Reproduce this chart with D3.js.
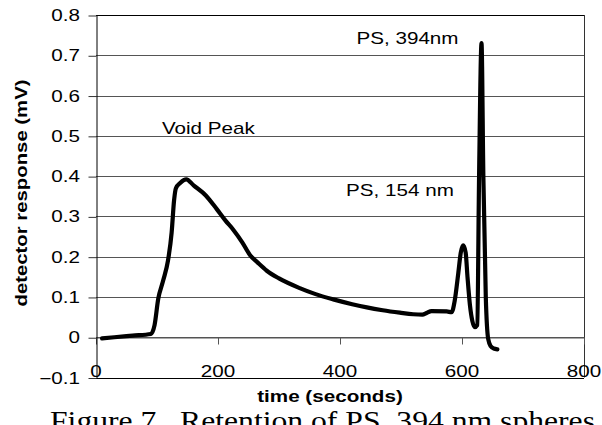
<!DOCTYPE html>
<meta charset="utf-8">
<script src="https://d3js.org/d3.v7.js"></script>
<style>
  body { margin: 0; background: #fff; }
  text { font-family: "Liberation Sans", Arial, sans-serif; fill: #000; }
</style>
<div id="chart"></div>
<script>

// retention time (s) and detector response (mV)
const time = [10, 30, 60, 90, 96, 102, 110, 118, 124, 128, 131, 138, 148, 160, 180, 198, 212,
  225, 240, 252, 266, 280, 300, 334, 360, 389, 420, 444, 470, 498, 520, 535, 542, 550, 575,
  583, 588, 594, 598, 602, 606, 609, 613, 617, 621, 625, 628, 632, 635, 639, 643, 647, 652, 658];
const response = [-0.003, 0.000, 0.004, 0.008, 0.03, 0.095, 0.14, 0.19, 0.26, 0.34, 0.370, 0.383,
  0.392, 0.377, 0.352, 0.318, 0.290, 0.267, 0.235, 0.205, 0.184, 0.165, 0.146, 0.122, 0.107,
  0.094, 0.082, 0.074, 0.067, 0.061, 0.057, 0.056, 0.060, 0.065, 0.064, 0.062, 0.090, 0.16,
  0.21, 0.228, 0.21, 0.15, 0.08, 0.04, 0.025, 0.03, 0.40, 0.73, 0.40, 0.10, -0.005, -0.022,
  -0.028, -0.030];

const xTicks = [0, 200, 400, 600, 800];
const yTicks = [-0.1, 0, 0.1, 0.2, 0.3, 0.4, 0.5, 0.6, 0.7, 0.8];

// labels placed on the plot: [text, time, response]
const notes = [
  ["Void Peak", 108, 0.504],
  ["PS, 394nm", 427, 0.727],
  ["PS, 154 nm", 410, 0.35]
];

const W = 602, H = 425;
const svg = d3.select("#chart").append("svg")
  .attr("width", W).attr("height", H);

svg.append("rect").attr("width", W).attr("height", H).attr("fill", "#fff");

const x = d3.scaleLinear().domain([0, 800]).range([96, 584]);
const y = d3.scaleLinear().domain([-0.1, 0.8]).range([377.5, 15]);

const fmt = d => d === 0 ? "0" : d3.format(".1f")(d);

// horizontal grid lines
svg.append("g")
  .selectAll("line")
  .data(yTicks.filter(d => d > -0.1))
  .join("line")
    .attr("x1", x(0)).attr("x2", x(800))
    .attr("y1", d => Math.round(y(d)) + 0.5)
    .attr("y2", d => Math.round(y(d)) + 0.5)
    .attr("stroke", d => d === 0.8 ? "#000" : "#555")
    .attr("stroke-width", 1);

// plot area border: bottom and right
svg.append("line")
  .attr("x1", x(0)).attr("x2", x(800))
  .attr("y1", Math.round(y(-0.1)) + 0.5).attr("y2", Math.round(y(-0.1)) + 0.5)
  .attr("stroke", "#000");
svg.append("line")
  .attr("x1", Math.round(x(800)) + 0.5).attr("x2", Math.round(x(800)) + 0.5)
  .attr("y1", y(0.8)).attr("y2", y(-0.1))
  .attr("stroke", "#333");

// x axis sits at y = 0, ticks downward
const xAxis = svg.append("g")
  .attr("transform", `translate(0,${Math.round(y(0)) + 0.5})`)
  .call(d3.axisBottom(x).tickValues(xTicks).tickSize(7).tickSizeOuter(0).tickFormat(""));
xAxis.select(".domain").attr("stroke", "#555");
xAxis.selectAll(".tick line").attr("stroke", "#555");

// y axis on the left
const yAxis = svg.append("g")
  .attr("transform", `translate(${Math.round(x(0)) + 0.5},0)`)
  .call(d3.axisLeft(y).tickValues(yTicks).tickSize(8).tickSizeOuter(0).tickFormat(""));
yAxis.select(".domain").attr("stroke", "#000");
yAxis.selectAll(".tick line").attr("stroke", "#333")
  .attr("transform", "translate(0,0.5)");

// y tick labels (the figure's text is stretched sideways)
svg.append("g")
  .selectAll("text")
  .data(yTicks)
  .join("text")
    .attr("transform", d => `translate(80,${y(d) + 6}) scale(1.29,1)`)
    .attr("text-anchor", "end")
    .attr("font-size", 16)
    .text(fmt);

// x tick labels, low along the bottom edge
svg.append("g")
  .selectAll("text")
  .data(xTicks)
  .join("text")
    .attr("transform", d => `translate(${x(d)},${y(-0.1) - 1}) scale(1.29,1)`)
    .attr("text-anchor", "middle")
    .attr("font-size", 16)
    .text(d => d);

// the trace
const line = d3.line()
  .x((d, i) => x(time[i]))
  .y((d, i) => y(response[i]))
  .curve(d3.curveMonotoneX);

svg.append("path")
  .attr("d", line(time))
  .attr("fill", "none")
  .attr("stroke", "#000")
  .attr("stroke-width", 4.2)
  .attr("stroke-linejoin", "round")
  .attr("stroke-linecap", "round");

// annotations
svg.append("g")
  .selectAll("text")
  .data(notes)
  .join("text")
    .attr("transform", d => `translate(${x(d[1])},${y(d[2])}) scale(1.29,1)`)
    .attr("font-size", 16)
    .text(d => d[0]);

// axis titles
svg.append("text")
  .attr("transform", `translate(27,193) rotate(-90)`)
  .attr("text-anchor", "middle")
  .attr("font-size", 17)
  .attr("font-weight", "bold")
  .attr("textLength", 227)
  .attr("lengthAdjust", "spacingAndGlyphs")
  .text("detector response (mV)");

// caption of the page the figure was cut from
svg.append("text")
  .attr("x", 50).attr("y", 430)
  .attr("font-size", 27)
  .style("font-family", "'Liberation Serif', 'Times New Roman', serif")
  .attr("textLength", 545)
  .attr("lengthAdjust", "spacingAndGlyphs")
  .attr("xml:space", "preserve")
  .text("Figure 7.  Retention of PS  394 nm spheres");

svg.append("text")
  .attr("transform", `translate(330,402) scale(1.29,1)`)
  .attr("text-anchor", "middle")
  .attr("font-size", 16)
  .attr("font-weight", "bold")
  .text("time (seconds)");

</script>
